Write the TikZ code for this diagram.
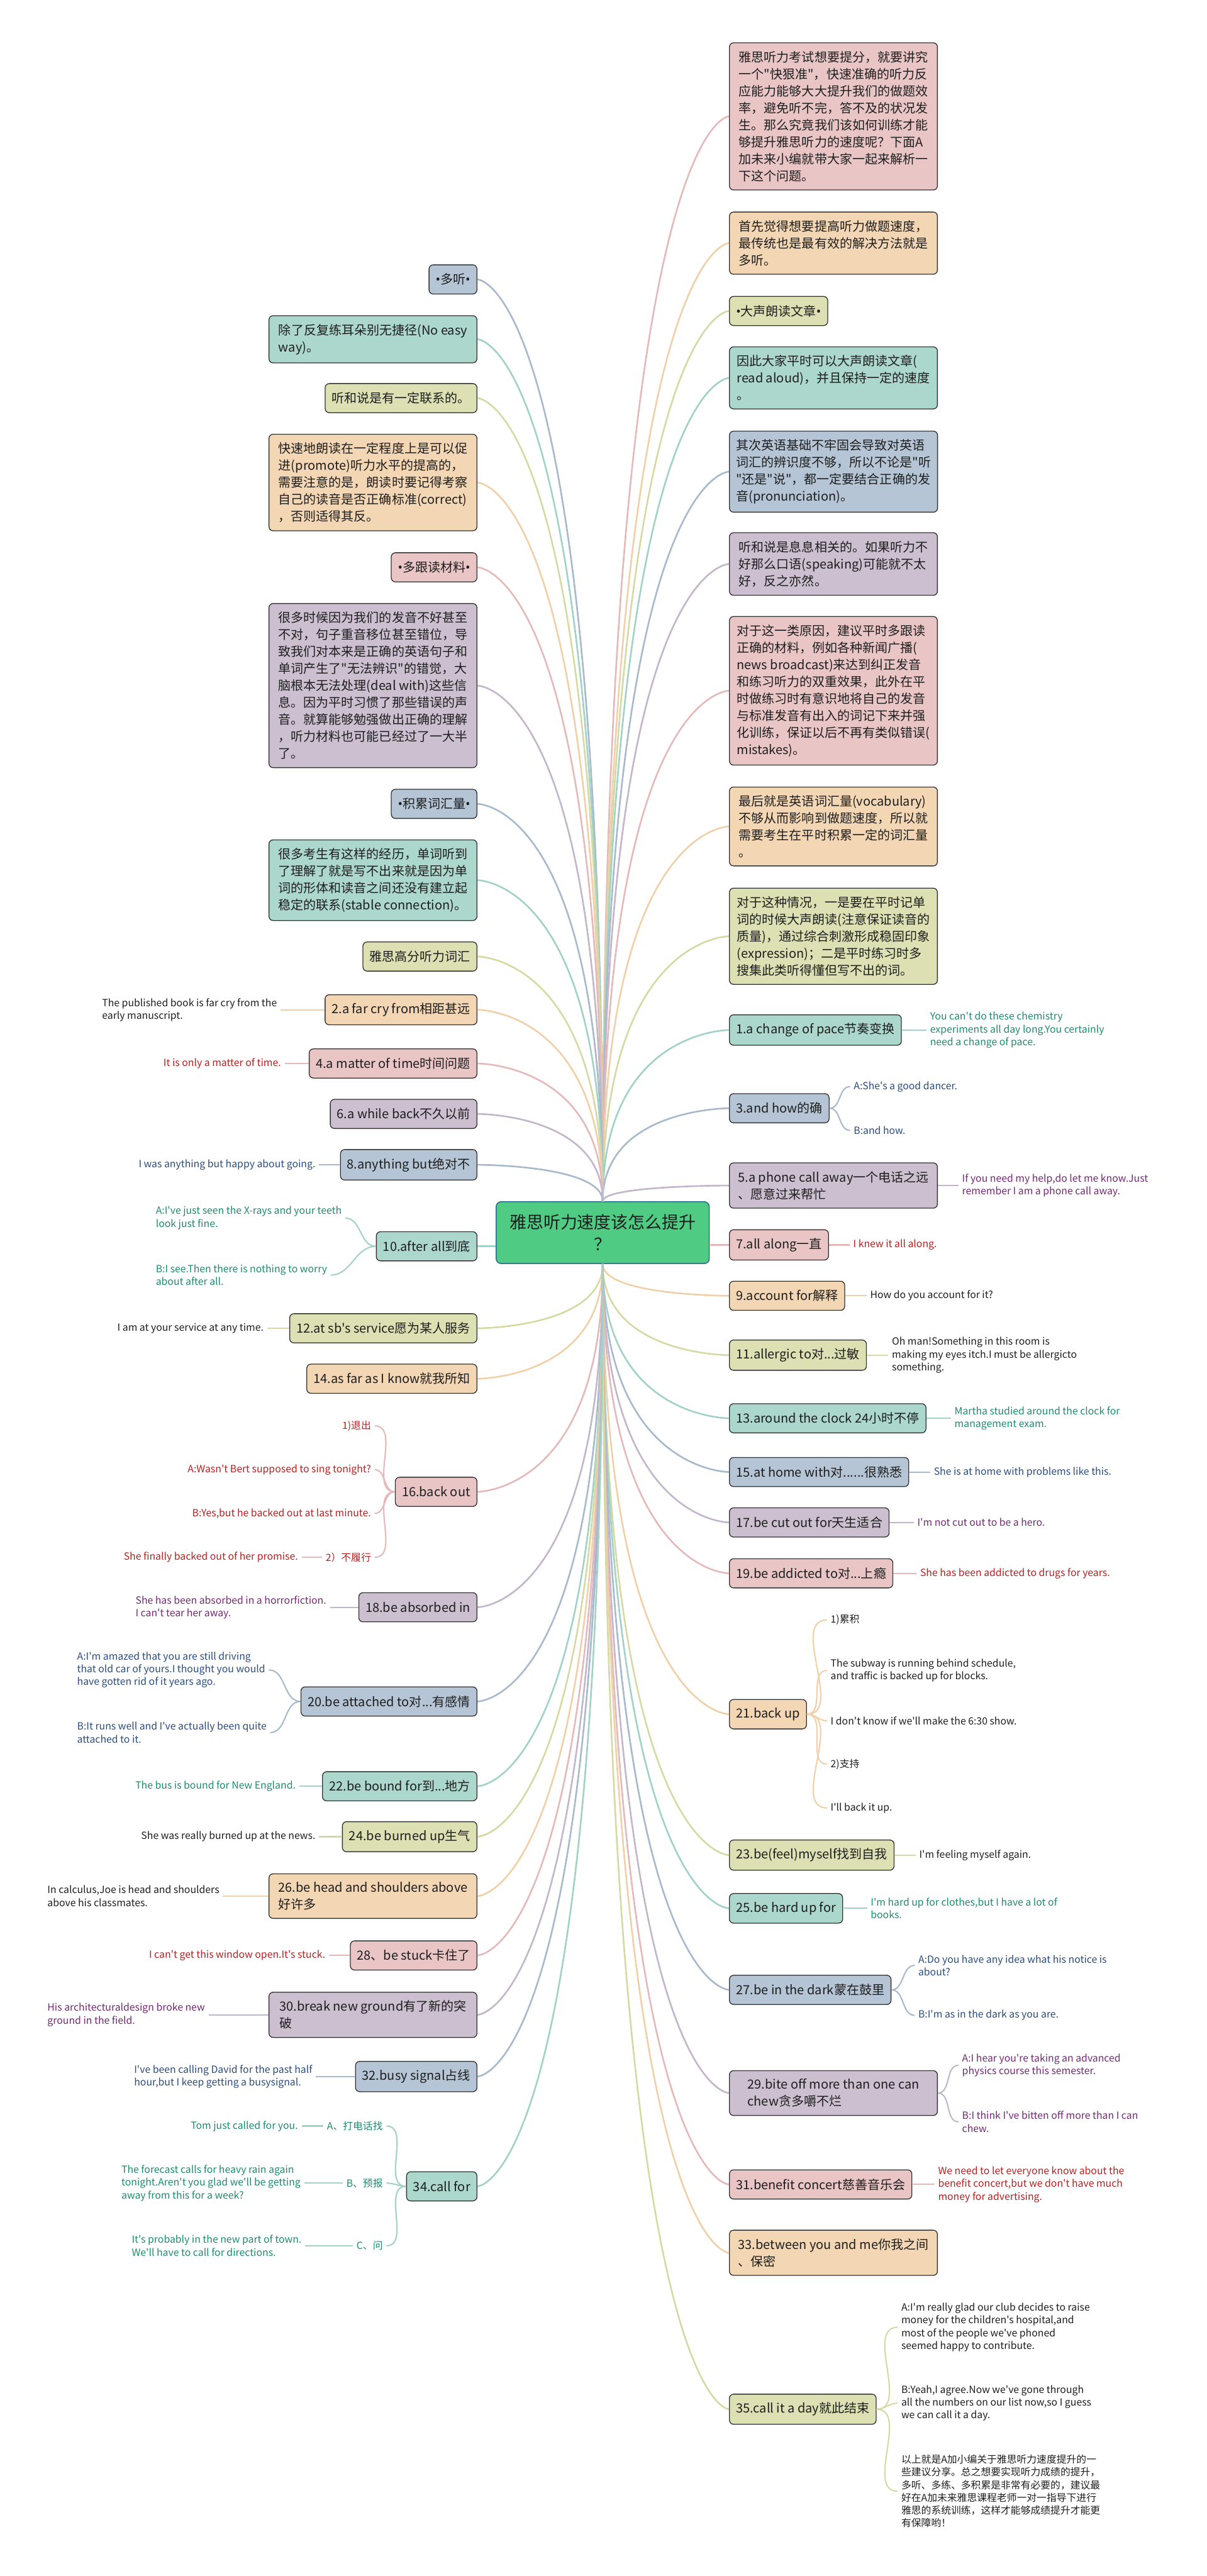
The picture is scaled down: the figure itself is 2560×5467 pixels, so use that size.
\documentclass[tikz,border=0pt]{standalone}
\usepackage{fontspec}
\setmainfont{Noto Sans CJK SC}[Ligatures=TeXOff]
\newfontfamily\latinf{Noto Sans}
\newcommand\bul{{\latinf •}}
\usepackage{xcolor}
\usetikzlibrary{calc}

\definecolor{pk}{HTML}{E9C5C6}
\definecolor{or}{HTML}{F3D6B4}
\definecolor{yg}{HTML}{DDE0B2}
\definecolor{tl}{HTML}{ACD7CD}
\definecolor{bl}{HTML}{B5C5D6}
\definecolor{pu}{HTML}{CBBFD0}
\definecolor{lpk}{HTML}{E4B9BA}
\definecolor{lor}{HTML}{EFD0A8}
\definecolor{lyg}{HTML}{D5DAA4}
\definecolor{ltl}{HTML}{A2D2C5}
\definecolor{lbl}{HTML}{A8B9CC}
\definecolor{lpu}{HTML}{C3B5CA}
\definecolor{ttl}{HTML}{1E8A6E}
\definecolor{tbl}{HTML}{2B4C7E}
\definecolor{tpu}{HTML}{722A72}
\definecolor{tpk}{HTML}{B22222}
\definecolor{tbk}{HTML}{1E1E1E}
\definecolor{hubf}{HTML}{4FCB83}
\definecolor{hubd}{HTML}{2D6B96}

\tikzset{
  topic/.style={draw=black!80, line width=0.5pt, rounded corners=2.5pt, inner xsep=4pt, inner ysep=5pt,
    minimum height=17.6pt, align=left, text=tbk, font=\fontsize{7.6}{10.25}\selectfont},
  wtopic/.style={topic, minimum width=125.5pt},
  hub/.style={draw=hubd, fill=hubf, line width=0.6pt, rounded corners=3pt, minimum width=128.6pt,
    minimum height=37.3pt, align=center, text=tbk, font=\fontsize{10.2}{13.4}\selectfont},
  leaf/.style={inner sep=2pt, align=left, font=\fontsize{6}{7.7}\selectfont},
  branch/.style={line width=1pt},
  twig/.style={line width=0.8pt},
}

\begin{document}
\begin{tikzpicture}[x=0.01cm, y=-0.01cm]
\useasboundingbox (0,0) rectangle (2560,5467);

\node[hub] (hub) at (1279,2616) {雅思听力速度该怎么提升\\？};

% right side
\node[wtopic, fill=pk, anchor=west] (R1) at (1547,247) {雅思听力考试想要提分，就要讲究\\一个"快狠准"，快速准确的听力反\\应能力能够大大提升我们的做题效\\率，避免听不完，答不及的状况发\\生。那么究竟我们该如何训练才能\\够提升雅思听力的速度呢？下面A\\加未来小编就带大家一起来解析一\\下这个问题。};
\node[wtopic, fill=or, anchor=west] (R2) at (1547,516) {首先觉得想要提高听力做题速度，\\最传统也是最有效的解决方法就是\\多听。};
\node[topic, fill=yg, anchor=west] (R3) at (1547,660) {\bul 大声朗读文章\bul};
\node[wtopic, fill=tl, anchor=west] (R4) at (1547,802) {因此大家平时可以大声朗读文章(\\read aloud)，并且保持一定的速度\\。};
\node[wtopic, fill=bl, anchor=west] (R5) at (1547,1001) {其次英语基础不牢固会导致对英语\\词汇的辨识度不够，所以不论是"听\\"还是"说"，都一定要结合正确的发\\音(pronunciation)。};
\node[wtopic, fill=pu, anchor=west] (R6) at (1547,1197) {听和说是息息相关的。如果听力不\\好那么口语(speaking)可能就不太\\好，反之亦然。};
\node[wtopic, fill=pk, anchor=west] (R7) at (1547,1466) {对于这一类原因，建议平时多跟读\\正确的材料，例如各种新闻广播(\\news broadcast)来达到纠正发音\\和练习听力的双重效果，此外在平\\时做练习时有意识地将自己的发音\\与标准发音有出入的词记下来并强\\化训练，保证以后不再有类似错误(\\mistakes)。};
\node[wtopic, fill=or, anchor=west] (R8) at (1547,1754) {最后就是英语词汇量(vocabulary)\\不够从而影响到做题速度，所以就\\需要考生在平时积累一定的词汇量\\。};
\node[wtopic, fill=yg, anchor=west] (R9) at (1547,1987) {对于这种情况，一是要在平时记单\\词的时候大声朗读(注意保证读音的\\质量)，通过综合刺激形成稳固印象\\(expression)；二是平时练习时多\\搜集此类听得懂但写不出的词。};
\node[topic, fill=tl, anchor=west] (R10) at (1547,2186) {1.a change of pace节奏变换};
\node[topic, fill=bl, anchor=west] (R11) at (1547,2352) {3.and how的确};
\node[wtopic, fill=pu, anchor=west] (R12) at (1547,2516) {5.a phone call away一个电话之远\\、愿意过来帮忙};
\node[topic, fill=pk, anchor=west] (R13) at (1547,2642) {7.all along一直};
\node[topic, fill=or, anchor=west] (R14) at (1547,2750) {9.account for解释};
\node[topic, fill=yg, anchor=west] (R15) at (1547,2876) {11.allergic to对...过敏};
\node[topic, fill=tl, anchor=west] (R16) at (1547,3010) {13.around the clock 24小时不停};
\node[topic, fill=bl, anchor=west] (R17) at (1547,3124) {15.at home with对......很熟悉};
\node[topic, fill=pu, anchor=west] (R18) at (1547,3231) {17.be cut out for天生适合};
\node[topic, fill=pk, anchor=west] (R19) at (1547,3339) {19.be addicted to对...上瘾};
\node[topic, fill=or, anchor=west] (R20) at (1547,3638) {21.back up};
\node[topic, fill=yg, anchor=west] (R21) at (1547,3937) {23.be(feel)myself找到自我};
\node[topic, fill=tl, anchor=west] (R22) at (1547,4050) {25.be hard up for};
\node[topic, fill=bl, anchor=west] (R23) at (1547,4223) {27.be in the dark蒙在鼓里};
\node[wtopic, fill=pu, anchor=west] (R24) at (1547,4442) {29.bite off more than one can\\chew贪多嚼不烂};
\node[topic, fill=pk, anchor=west] (R25) at (1547,4636) {31.benefit concert慈善音乐会};
\node[wtopic, fill=or, anchor=west] (R26) at (1547,4781) {33.between you and me你我之间\\、保密};
\node[topic, fill=yg, anchor=west] (R27) at (1547,5113) {35.call it a day就此结束};

% left side
\node[topic, fill=bl, anchor=east] (L1) at (1013,593) {\bul 多听\bul};
\node[wtopic, fill=tl, anchor=east] (L2) at (1013,720) {除了反复练耳朵别无捷径(No easy\\way)。};
\node[topic, fill=yg, anchor=east] (L3) at (1013,845) {听和说是有一定联系的。};
\node[wtopic, fill=or, anchor=east] (L4) at (1013,1024) {快速地朗读在一定程度上是可以促\\进(promote)听力水平的提高的，\\需要注意的是，朗读时要记得考察\\自己的读音是否正确标准(correct)\\，否则适得其反。};
\node[topic, fill=pk, anchor=east] (L5) at (1013,1204) {\bul 多跟读材料\bul};
\node[wtopic, fill=pu, anchor=east] (L6) at (1013,1455) {很多时候因为我们的发音不好甚至\\不对，句子重音移位甚至错位，导\\致我们对本来是正确的英语句子和\\单词产生了"无法辨识"的错觉，大\\脑根本无法处理(deal with)这些信\\息。因为平时习惯了那些错误的声\\音。就算能够勉强做出正确的理解\\，听力材料也可能已经过了一大半\\了。};
\node[topic, fill=bl, anchor=east] (L7) at (1013,1706) {\bul 积累词汇量\bul};
\node[wtopic, fill=tl, anchor=east] (L8) at (1013,1868) {很多考生有这样的经历，单词听到\\了理解了就是写不出来就是因为单\\词的形体和读音之间还没有建立起\\稳定的联系(stable connection)。};
\node[topic, fill=yg, anchor=east] (L9) at (1013,2030) {雅思高分听力词汇};
\node[topic, fill=or, anchor=east] (L10) at (1013,2143) {2.a far cry from相距甚远};
\node[topic, fill=pk, anchor=east] (L11) at (1013,2257) {4.a matter of time时间问题};
\node[topic, fill=pu, anchor=east] (L12) at (1013,2364) {6.a while back不久以前};
\node[topic, fill=bl, anchor=east] (L13) at (1013,2472) {8.anything but绝对不};
\node[topic, fill=tl, anchor=east] (L14) at (1013,2645) {10.after all到底};
\node[topic, fill=yg, anchor=east] (L15) at (1013,2819) {12.at sb's service愿为某人服务};
\node[topic, fill=or, anchor=east] (L16) at (1013,2926) {14.as far as I know就我所知};
\node[topic, fill=pk, anchor=east] (L17) at (1013,3166) {16.back out};
\node[topic, fill=pu, anchor=east] (L18) at (1013,3411) {18.be absorbed in};
\node[topic, fill=bl, anchor=east] (L19) at (1013,3611) {20.be attached to对...有感情};
\node[topic, fill=tl, anchor=east] (L20) at (1013,3791) {22.be bound for到...地方};
\node[topic, fill=yg, anchor=east] (L21) at (1013,3898) {24.be burned up生气};
\node[wtopic, fill=or, anchor=east] (L22) at (1013,4024) {26.be head and shoulders above\\好许多};
\node[topic, fill=pk, anchor=east] (L23) at (1013,4150) {28、be stuck卡住了};
\node[wtopic, fill=pu, anchor=east] (L24) at (1013,4276) {30.break new ground有了新的突\\破};
\node[topic, fill=bl, anchor=east] (L25) at (1013,4407) {32.busy signal占线};
\node[topic, fill=tl, anchor=east] (L26) at (1013,4640) {34.call for};

% branches from the hub
\foreach \n/\c in {R1/lpk,R2/lor,R3/lyg,R4/ltl,R5/lbl,R6/lpu,R7/lpk,R8/lor,R9/lyg,R10/ltl,R11/lbl,R12/lpu}
  \draw[branch, \c] (hub.north) .. controls (hub.north |- \n.west) and (\n.west) .. (\n.west);
\foreach \n/\c in {R14/lor,R15/lyg,R16/ltl,R17/lbl,R18/lpu,R19/lpk,R20/lor,R21/lyg,R22/ltl,R23/lbl,R24/lpu,R25/lpk,R26/lor,R27/lyg}
  \draw[branch, \c] (hub.south) .. controls (hub.south |- \n.west) and (\n.west) .. (\n.west);
\foreach \n/\c in {L1/lbl,L2/ltl,L3/lyg,L4/lor,L5/lpk,L6/lpu,L7/lbl,L8/ltl,L9/lyg,L10/lor,L11/lpk,L12/lpu,L13/lbl}
  \draw[branch, \c] (hub.north) .. controls (hub.north |- \n.east) and (\n.east) .. (\n.east);
\foreach \n/\c in {L15/lyg,L16/lor,L17/lpk,L18/lpu,L19/lbl,L20/ltl,L21/lyg,L22/lor,L23/lpk,L24/lpu,L25/lbl,L26/ltl}
  \draw[branch, \c] (hub.south) .. controls (hub.south |- \n.east) and (\n.east) .. (\n.east);
\draw[branch, ltl] (L14.east) -- (L14.east -| hub.west);
\draw[branch, lpk] (R13.west) -- (R13.west -| hub.east);

% right examples
\node[leaf, text=ttl, anchor=west] (r10) at (1966,2186) {You can't do these chemistry\\experiments all day long.You certainly\\need a change of pace.};
\node[leaf, text=tbl, anchor=west] (r11a) at (1804,2306) {A:She's a good dancer.};
\node[leaf, text=tbl, anchor=west] (r11b) at (1804,2399) {B:and how.};
\node[leaf, text=tpu, anchor=west] (r12) at (2034,2516) {If you need my help,do let me know.Just\\remember I am a phone call away.};
\node[leaf, text=tpk, anchor=west] (r13) at (1803,2642) {I knew it all along.};
\node[leaf, text=tbk, anchor=west] (r14) at (1839,2750) {How do you account for it?};
\node[leaf, text=tbk, anchor=west] (r15) at (1885,2876) {Oh man!Something in this room is\\making my eyes itch.I must be allergicto\\something.};
\node[leaf, text=ttl, anchor=west] (r16) at (2018,3010) {Martha studied around the clock for\\management exam.};
\node[leaf, text=tbl, anchor=west] (r17) at (1974,3124) {She is at home with problems like this.};
\node[leaf, text=tpu, anchor=west] (r18) at (1939,3231) {I'm not cut out to be a hero.};
\node[leaf, text=tpk, anchor=west] (r19) at (1945,3339) {She has been addicted to drugs for years.};
\node[leaf, text=tbk, anchor=west] (r20a) at (1755,3438) {1)累积};
\node[leaf, text=tbk, anchor=west] (r20b) at (1755,3545) {The subway is running behind schedule,\\and traffic is backed up for blocks.};
\node[leaf, text=tbk, anchor=west] (r20c) at (1755,3652) {I don't know if we'll make the 6:30 show.};
\node[leaf, text=tbk, anchor=west] (r20d) at (1755,3744) {2)支持};
\node[leaf, text=tbk, anchor=west] (r20e) at (1755,3837) {I'll back it up.};
\node[leaf, text=tbk, anchor=west] (r21) at (1943,3937) {I'm feeling myself again.};
\node[leaf, text=ttl, anchor=west] (r22) at (1840,4050) {I'm hard up for clothes,but I have a lot of\\books.};
\node[leaf, text=tbl, anchor=west] (r23a) at (1941,4171) {A:Do you have any idea what his notice is\\about?};
\node[leaf, text=tbl, anchor=west] (r23b) at (1941,4277) {B:I'm as in the dark as you are.};
\node[leaf, text=tpu, anchor=west] (r24a) at (2034,4383) {A:I hear you're taking an advanced\\physics course this semester.};
\node[leaf, text=tpu, anchor=west] (r24b) at (2034,4503) {B:I think I've bitten off more than I can\\chew.};
\node[leaf, text=tpk, anchor=west] (r25) at (1983,4636) {We need to let everyone know about the\\benefit concert,but we don't have much\\money for advertising.};
\node[leaf, text=tbk, anchor=west] (r27a) at (1905,4939) {A:I'm really glad our club decides to raise\\money for the children's hospital,and\\most of the people we've phoned\\seemed happy to contribute.};
\node[leaf, text=tbk, anchor=west] (r27b) at (1905,5100) {B:Yeah,I agree.Now we've gone through\\all the numbers on our list now,so I guess\\we can call it a day.};
\node[leaf, text=tbk, anchor=west] (r27c) at (1905,5287) {以上就是A加小编关于雅思听力速度提升的一\\些建议分享。总之想要实现听力成绩的提升，\\多听、多练、多积累是非常有必要的，建议最\\好在A加未来雅思课程老师一对一指导下进行\\雅思的系统训练，这样才能够成绩提升才能更\\有保障哟！};

\foreach \p/\q/\c in {R10/r10/ltl,R12/r12/lpu,R13/r13/lpk,R14/r14/lor,R15/r15/lyg,R16/r16/ltl,R17/r17/lbl,R18/r18/lpu,R19/r19/lpk,R21/r21/lyg,R22/r22/ltl,R25/r25/lpk}
  \draw[twig, \c] (\p.east) -- (\q.west);
\foreach \q in {r11a,r11b} \draw[twig, lbl] (R11.east) to[out=0,in=180] (\q.west);
\foreach \q in {r20a,r20b,r20c,r20d,r20e} \draw[twig, lor] (R20.east) to[out=0,in=180] (\q.west);
\foreach \q in {r23a,r23b} \draw[twig, lbl] (R23.east) to[out=0,in=180] (\q.west);
\foreach \q in {r24a,r24b} \draw[twig, lpu] (R24.east) to[out=0,in=180] (\q.west);
\foreach \q in {r27a,r27b,r27c} \draw[twig, lyg] (R27.east) to[out=0,in=180] (\q.west);

% left examples
\node[leaf, text=tbk, anchor=west] (l10) at (209,2143) {The published book is far cry from the\\early manuscript.};
\node[leaf, text=tpk, anchor=east] (l11) at (604,2257) {It is only a matter of time.};
\node[leaf, text=tbl, anchor=east] (l13) at (677,2472) {I was anything but happy about going.};
\node[leaf, text=ttl, anchor=west] (l14a) at (323,2585) {A:I've just seen the X-rays and your teeth\\look just fine.};
\node[leaf, text=ttl, anchor=west] (l14b) at (323,2706) {B:I see.Then there is nothing to worry\\about after all.};
\node[leaf, text=tbk, anchor=east] (l15) at (567,2819) {I am at your service at any time.};
\node[leaf, text=tpk, anchor=east] (l17a) at (795,3026) {1)退出};
\node[leaf, text=tpk, anchor=east] (l17b) at (795,3119) {A:Wasn't Bert supposed to sing tonight?};
\node[leaf, text=tpk, anchor=east] (l17c) at (795,3212) {B:Yes,but he backed out at last minute.};
\node[leaf, text=tpk, anchor=east] (l17d) at (795,3305) {2）不履行};
\node[leaf, text=tpk, anchor=east] (l17e) at (640,3305) {She finally backed out of her promise.};
\node[leaf, text=tpu, anchor=west] (l18) at (280,3411) {She has been absorbed in a horrorfiction.\\I can't tear her away.};
\node[leaf, text=tbl, anchor=west] (l19a) at (156,3544) {A:I'm amazed that you are still driving\\that old car of yours.I thought you would\\have gotten rid of it years ago.};
\node[leaf, text=tbl, anchor=west] (l19b) at (156,3677) {B:It runs well and I've actually been quite\\attached to it.};
\node[leaf, text=ttl, anchor=east] (l20) at (635,3791) {The bus is bound for New England.};
\node[leaf, text=tbk, anchor=east] (l21) at (677,3898) {She was really burned up at the news.};
\node[leaf, text=tbk, anchor=west] (l22) at (93,4024) {In calculus,Joe is head and shoulders\\above his classmates.};
\node[leaf, text=tpk, anchor=east] (l23) at (698,4150) {I can't get this window open.It's stuck.};
\node[leaf, text=tpu, anchor=west] (l24) at (93,4276) {His architecturaldesign broke new\\ground in the field.};
\node[leaf, text=tbl, anchor=west] (l25) at (277,4407) {I've been calling David for the past half\\hour,but I keep getting a busysignal.};
\node[leaf, text=ttl, anchor=east] (l26a) at (820,4512) {A、打电话找};
\node[leaf, text=ttl, anchor=east] (l26b) at (820,4633) {B、预报};
\node[leaf, text=ttl, anchor=east] (l26c) at (820,4766) {C、问};
\node[leaf, text=ttl, anchor=east] (l26d) at (640,4512) {Tom just called for you.};
\node[leaf, text=ttl, anchor=west] (l26e) at (250,4633) {The forecast calls for heavy rain again\\tonight.Aren't you glad we'll be getting\\away from this for a week?};
\node[leaf, text=ttl, anchor=west] (l26f) at (272,4766) {It's probably in the new part of town.\\We'll have to call for directions.};

\foreach \p/\q/\c in {L10/l10/lor,L11/l11/lpk,L13/l13/lbl,L15/l15/lyg,L18/l18/lpu,L20/l20/ltl,L21/l21/lyg,L22/l22/lor,L23/l23/lpk,L24/l24/lpu,L25/l25/lbl,l17d/l17e/lpk,l26a/l26d/ltl,l26b/l26e/ltl,l26c/l26f/ltl}
  \draw[twig, \c] (\p.west) -- (\q.east);
\foreach \q in {l14a,l14b} \draw[twig, ltl] (L14.west) to[out=180,in=0] (\q.east);
\foreach \q in {l17a,l17b,l17c,l17d} \draw[twig, lpk] (L17.west) to[out=180,in=0] (\q.east);
\foreach \q in {l19a,l19b} \draw[twig, lbl] (L19.west) to[out=180,in=0] (\q.east);
\foreach \q in {l26a,l26b,l26c} \draw[twig, ltl] (L26.west) to[out=180,in=0] (\q.east);
\end{tikzpicture}
\end{document}
